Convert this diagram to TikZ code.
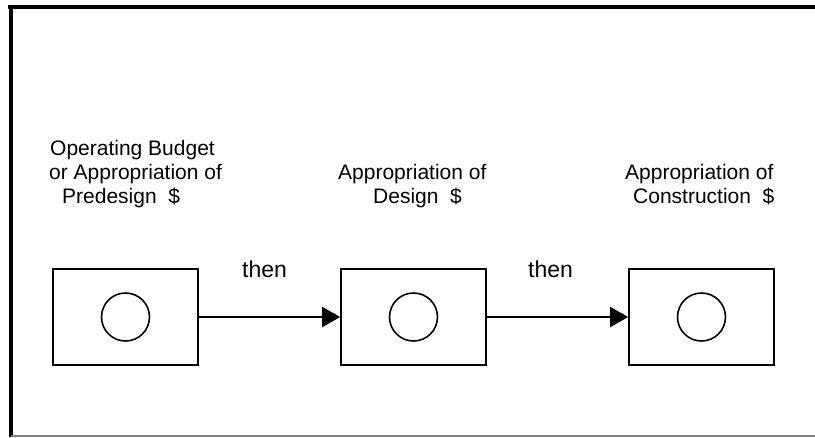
\documentclass[tikz,border=0pt]{standalone}
\usepackage{fontspec}
\setmainfont{Liberation Sans}
\usetikzlibrary{arrows.meta}
\begin{document}
\begin{tikzpicture}[x=1pt,y=-1pt,
  box/.style={draw,line width=1.6pt,minimum width=145pt,minimum height=96pt,inner sep=0pt},
  ring/.style={draw,circle,line width=1.6pt,minimum size=48pt,inner sep=0pt},
  lbl/.style={anchor=base west,inner sep=0pt,font=\fontsize{21}{24}\selectfont},
  thenlbl/.style={anchor=base west,inner sep=0pt,font=\fontsize{23}{28}\selectfont},
  flow/.style={line width=1.6pt,-{Triangle[length=18pt,width=20pt]}}]
\useasboundingbox (0,0) rectangle (815,437);
% frame
\draw[line width=4pt] (8,6.5) -- (815,6.5);
\draw[line width=4pt] (10.5,4.5) -- (10.5,437);
\draw[gray,line width=1.2pt] (11,436) -- (815,436);
% boxes
\node[box] (b1) at (125.5,317) {};
\node[box] (b2) at (413.5,317) {};
\node[box] (b3) at (701.5,317) {};
\node[ring] (c1) at (b1.center) {};
\node[ring] (c2) at (b2.center) {};
\node[ring] (c3) at (b3.center) {};
% arrows
\draw[flow] (b1.east) -- (b2.west);
\draw[flow] (b2.east) -- (b3.west);
% then labels
\node[thenlbl] (t1) at (242,277) {then};
\node[thenlbl] (t2) at (528,277) {then};
% labels
\node[lbl] (l1a) at (50,155) {Operating Budget};
\node[lbl] (l1b) at (49,179) {or Appropriation of};
\node[lbl] (l1c) at (62,203) {Predesign\ \ \$};
\node[lbl] (l2a) at (338,179) {Appropriation of};
\node[lbl] (l2b) at (373,203) {Design\ \ \$};
\node[lbl] (l3a) at (625,179) {Appropriation of};
\node[lbl] (l3b) at (633,203) {Construction\ \ \$};
\end{tikzpicture}
\end{document}
